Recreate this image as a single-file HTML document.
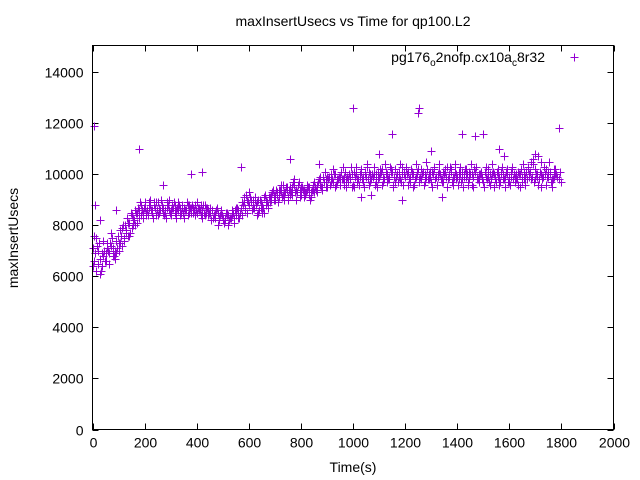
<!DOCTYPE html>
<html><head><meta charset="utf-8"><style>
html,body{margin:0;padding:0;background:#fff;}
svg{display:block;font-family:"Liberation Sans",sans-serif;}
</style></head><body>
<svg id="chart" width="640" height="480">
<rect x="0" y="0" width="640" height="480" fill="#fff"/>
<text x="353" y="26" font-size="14" text-anchor="middle">maxInsertUsecs vs Time for qp100.L2</text>
<text x="353" y="472" font-size="14" text-anchor="middle">Time(s)</text>
<text x="18" y="238" font-size="14" text-anchor="middle" transform="rotate(-90 18 238)">maxInsertUsecs</text>
<g id="grid"></g>
<g id="marks"></g>
<g>
<text x="545" y="62" font-size="14" text-anchor="end">pg176<tspan font-size="10" dy="4">o</tspan><tspan dy="-4">2nofp.cx10a</tspan><tspan font-size="10" dy="4">c</tspan><tspan dy="-4">8r32</tspan></text>
<path d="M570.5,57.5h8M574.5,53.5v8" stroke="#9400d3" stroke-width="1"/>
</g>
<rect x="92.5" y="45.5" width="521" height="384" fill="none" stroke="#000" stroke-width="1"/>
</svg>
<script>
const xTicks=[0,200,400,600,800,1000,1200,1400,1600,1800,2000];
const yTicks=[0,2000,4000,6000,8000,10000,12000,14000];
// series A: t = 0,10,...,1800
const seriesA=[7100,6900,6500,6700,6800,6600,7000,7200,7100,6900,7300,7600,7400,7800,8100,7900,8200,8500,8300,8600,
8700,8600,8800,8500,8700,8900,8600,8700,8500,8800,8600,8700,8600,8900,8500,8700,8600,8800,8700,8600,
8500,8700,8600,8400,8700,8500,8600,8300,8500,8400,8300,8200,8400,8300,8500,8400,8600,8700,8900,9200,
8800,9000,8700,8900,8600,8800,8500,8900,9100,9300,9000,9200,9400,9600,9300,9100,9500,9700,9400,9600,
9200,9400,9300,9500,9100,9300,9600,9800,9500,9700,9900,9600,9800,10000,9700,9900,9800,10100,9700,9900,
9600,10000,9800,10200,9700,9900,10100,9800,10000,9700,9900,10200,9800,10000,9900,10100,9700,10000,9800,10300,
9900,10100,9700,10000,9900,10200,9800,10100,9900,10000,9700,10200,9900,10100,9800,10000,10300,9900,9700,10100,
9900,10000,9800,10200,9700,10000,9900,10100,9800,10000,9700,9900,10200,9800,10000,9700,9900,10100,9800,10000,
9700,10200,9900,9800,10000,9700,9900,10300,10100,10400,9800,9600,10000,9900,10200,10100,9700,9900,10000,9800,9700];
// series B: t = 5,15,...,1795
const seriesB=[7600,6200,7300,6400,7000,7300,6900,7500,6700,7100,7800,7200,8000,7600,7700,8300,8000,8700,8800,8500,
8400,8900,8600,8800,8400,8700,8800,8400,8700,8600,8800,8500,8700,8400,8800,8600,8400,8700,8500,8800,
8700,8400,8800,8500,8600,8200,8400,8600,8200,8500,8100,8400,8200,8600,8300,8700,8500,8900,8600,9000,
9100,8700,9000,8500,8900,8700,9000,8800,9200,9000,9400,9100,9300,9000,9500,9400,9200,9600,9300,9100,
9500,9200,9400,9000,9400,9500,9700,9600,9900,9500,9800,10000,9700,9600,9900,10100,9600,9800,10000,9500,
10100,9700,9900,9800,10000,10300,9700,9900,9600,10100,10000,9700,10100,9800,10200,9600,9900,10100,9700,10000,
10200,9800,10000,9600,10100,9800,10000,9700,10200,9900,10100,9800,9900,10000,9700,10100,9800,10200,9900,9800,
10100,9700,10000,9900,10100,9600,10200,9800,10000,9900,10100,9800,9600,10000,9900,10200,9700,10000,9900,9700,
10100,9800,10000,9600,10200,9800,10100,9900,10500,9700,10000,9800,9900,10300,9900,10000,9800,10200,9900,10100];
// series C: t = 2,12,...,1792 (wider spread)
const seriesC=[6400,7500,7000,6200,7400,6900,6500,7700,6800,7400,7000,7900,7500,8300,7600,8400,8600,8100,8900,8300,
8900,8400,9000,8300,8900,8400,9000,8500,8300,9000,8400,8900,8300,8800,8700,8300,8900,8500,8800,8400,
8900,8600,8300,8800,8400,8700,8300,8500,8000,8600,8200,8500,8000,8300,8100,8700,8300,8400,9100,8500,
9300,8600,9100,8400,9000,8500,9200,8700,8900,9400,9200,8900,9600,9200,9500,9000,9300,9800,9000,9700,
9500,9100,9600,9200,9400,9700,9300,9900,9400,10100,9500,9600,10200,9500,9800,9600,10300,9500,9800,10300,
9500,10300,9600,10100,9500,10400,9600,10000,10300,9500,10200,9600,10400,9700,10300,9500,10200,9700,10400,9600,
10300,9600,10200,9500,10400,9700,10200,9600,10500,9800,9500,10300,9600,10400,9700,10200,9500,10300,9600,10400,
9600,10300,9500,10200,9600,10400,9500,10300,9700,10100,9500,10300,9700,10400,9500,10100,9600,10300,9500,10200,
9600,10300,9700,10100,9500,10400,9600,10200,9800,10600,10000,10700,9500,10300,9600,10500,9500,10200];
// series D: t = 7,17,...,1797
const seriesD=[6600,7200,6100,6900,6600,7100,7300,6800,7000,7600,7300,8000,7700,8100,8500,8000,8500,8600,8400,8700,
8500,8700,8600,8900,8600,8500,8700,8600,8900,8500,8700,8800,8600,8700,8500,8600,8800,8500,8700,8600,
8600,8800,8500,8700,8500,8600,8400,8700,8300,8400,8300,8500,8300,8400,8600,8300,8500,8800,8700,8900,
8900,9000,8800,9000,8700,9100,8800,9100,9000,9200,9300,9400,9100,9300,9400,9200,9500,9300,9600,9400,
9400,9300,9500,9300,9600,9400,9700,9500,9700,9800,9900,9700,10000,9800,9900,9800,9900,9900,9800,10000,
9900,9800,10000,9900,10100,9800,10000,9900,10000,9800,10100,9900,10000,9800,10100,9900,10000,9900,10000,10100,
10000,9900,10100,9800,10000,9900,10100,10000,9800,10100,10000,9900,10000,9800,10100,9900,10000,10100,9900,10000,
9800,10100,9900,10000,9800,10000,10100,9900,10000,9800,10100,9900,10000,10100,9800,9900,10000,9800,10100,9900,
9900,10000,9800,10000,9900,10100,9800,10000,9900,10200,9900,10100,9800,10000,9900,10100,9800,10000];
// outliers [time, value]
const outT=[5,10,180,90,30,270,380,420,570,760,870,1000,1100,1150,1250,1255,1300,1420,1470,1500,1560,1580,1700,1720,1790,1030,1070,1190,1340];
const outV=[11900,8800,11000,8600,8200,9600,10000,10100,10300,10600,10400,12600,10800,11600,12400,12600,10900,11600,11500,11600,11000,10700,10800,10500,11800,9100,9200,9000,9100];

const NS='http://www.w3.org/2000/svg';
const L=92.5,R=613.5,T=45.5,B=429.5;
const xMax=2000,yMax=15050;
function sx(v){return L+(R-L)*v/xMax;}
function sy(v){return B-(B-T)*v/yMax;}
const grid=document.getElementById('grid');
const marks=document.getElementById('marks');
function mk(tag,attrs,parent){const e=document.createElementNS(NS,tag);for(const k in attrs)e.setAttribute(k,attrs[k]);parent.appendChild(e);return e;}
xTicks.forEach(v=>{
  const x=Math.round(sx(v))+0.5;
  const t=mk('path',{d:`M${x},${B}v-6M${x},${T}v6`,stroke:'#000','stroke-width':1},grid);
  
  
  const lb=mk('text',{x:x,y:B+18,'font-size':14,'text-anchor':'middle'},grid);
  lb.textContent=v;
  
  
});
yTicks.forEach(v=>{
  const y=Math.round(sy(v))+0.5;
  const t=mk('path',{d:`M${L},${y}h6M${R},${y}h-6`,stroke:'#000','stroke-width':1},grid);
  
  
  const lb=mk('text',{x:L-9,y:y+5,'font-size':14,'text-anchor':'end'},grid);
  lb.textContent=v;
  
  
});
function plus(t,v,name){
  const x=Math.round(sx(t))+0.5,y=Math.round(sy(v))+0.5;
  const p=mk('path',{d:`M${x-4},${y}h8M${x},${y-4}v8`,stroke:'#9400d3','stroke-width':1},marks);
  
  
}
seriesA.forEach((v,i)=>plus(i*10,v,'point-a'));
seriesB.forEach((v,i)=>plus(i*10+5,v,'point-b'));
seriesC.forEach((v,i)=>plus(i*10+2,v,'point-c'));
seriesD.forEach((v,i)=>plus(i*10+7,v,'point-d'));
outT.forEach((t,i)=>plus(t,outV[i],'outlier-point'));
</script>
</body></html>
